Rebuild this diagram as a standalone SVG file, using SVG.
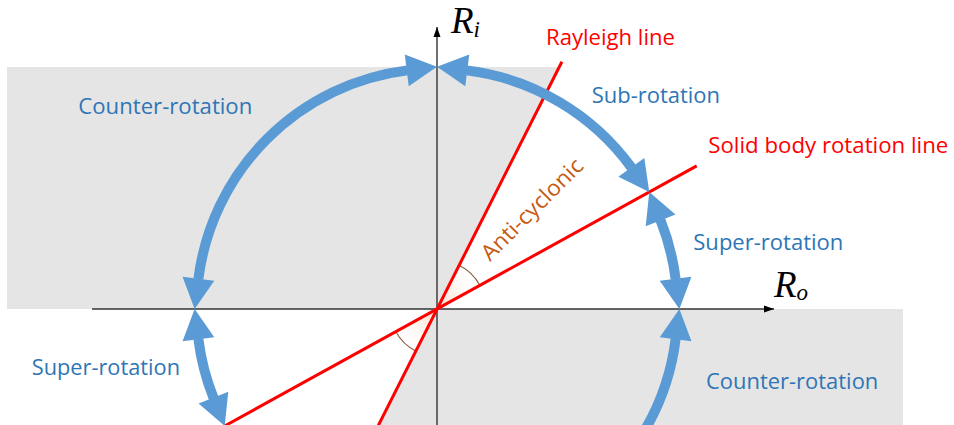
<svg xmlns="http://www.w3.org/2000/svg" width="954" height="425" viewBox="0 0 954 425">
<defs>
<style>
.region{fill:#E5E5E5;stroke:none}
.axis{stroke:#333;stroke-width:1.4;fill:none}
.red{stroke:#FF0000;stroke-width:3;fill:none}
.arc{stroke:#5B9BD5;stroke-width:10;fill:none}
.wedge{fill:url(#peach);stroke:none}
.anglearc{fill:none;stroke:#8B5A3C;stroke-width:1.1}
.blue{font-family:"Open Sans","Noto Sans",sans-serif;font-size:22px;fill:#2E75B6}
.redt{font-family:"Open Sans","Noto Sans",sans-serif;font-size:21px;fill:#FF0000}
.orange{font-family:"Open Sans","Noto Sans",sans-serif;font-size:22px;fill:#C55A11}
.math{font-family:"Liberation Serif","Times New Roman",serif;font-style:italic;fill:#000}
</style>
<radialGradient id="peach" cx="437" cy="309" r="50" gradientUnits="userSpaceOnUse">
<stop offset="0" stop-color="#FBDCC8"/>
<stop offset="1" stop-color="#FFFFFF" stop-opacity="0.2"/>
</radialGradient>
<marker id="bigHead" markerUnits="userSpaceOnUse" viewBox="0 -16.5 30 33" markerWidth="30" markerHeight="33" refX="0" refY="0" orient="auto-start-reverse" overflow="visible">
<path d="M-0.5,-16 L30,0 L-0.5,16 Z" fill="#5B9BD5"/>
</marker>
<marker id="axisHead" markerUnits="userSpaceOnUse" viewBox="0 -4 10 8" markerWidth="10" markerHeight="8" refX="10" refY="0" orient="auto" overflow="visible">
<path d="M0,-3.5 L10,0 L0,3.5 Z" fill="#000"/>
</marker>
</defs>

<g id="regions">
<path id="region-upper" class="region" d="M7,67 H559.2 L437,309 H7 Z"/>
<path id="region-lower" class="region" d="M437,309 H903 V425 H378.4 Z"/>
</g>

<g id="angles">
<path class="wedge" d="M437,309 L459.09,265.26 A49,49 0 0 1 479.92,285.36 Z"/>
<path class="anglearc" d="M459.09,265.26 A49,49 0 0 1 479.92,285.36"/>
<path class="wedge" d="M437,309 L415.81,350.95 A47,47 0 0 1 395.83,331.68 Z"/>
<path class="anglearc" d="M415.81,350.95 A47,47 0 0 1 395.83,331.68"/>
</g>

<g id="axes">
<line id="axis-Ro" class="axis" x1="92" y1="309" x2="774" y2="309" marker-end="url(#axisHead)"/>
<line id="axis-Ri" class="axis" x1="437" y1="425" x2="437" y2="27" marker-end="url(#axisHead)"/>
</g>

<g id="lines">
<line id="rayleigh-line" class="red" x1="374" y1="434" x2="561.9" y2="61.7"/>
<line id="solid-body-line" class="red" x1="225" y1="425.8" x2="696.7" y2="165.9"/>
</g>

<g id="connectors">
<path id="arc-counter-upper" class="arc" d="M407.23,70.35 A240.5,240.5 0 0 0 198.35,279.23" marker-start="url(#bigHead)" marker-end="url(#bigHead)"/>
<path id="arc-sub" class="arc" d="M466.77,70.35 A240.5,240.5 0 0 1 631.65,167.75" marker-start="url(#bigHead)" marker-end="url(#bigHead)"/>
<path id="arc-super-right" class="arc" d="M660.39,219.92 A240.5,240.5 0 0 1 675.65,279.23" marker-start="url(#bigHead)" marker-end="url(#bigHead)"/>
<path id="arc-counter-lower" class="arc" d="M634.01,446.95 A240.5,240.5 0 0 0 675.65,338.77" marker-end="url(#bigHead)"/>
<path id="arc-super-left" class="arc" d="M198.35,338.77 A240.5,240.5 0 0 0 213.61,398.09" marker-start="url(#bigHead)" marker-end="url(#bigHead)"/>
</g>

<g id="label-Ri"><text class="math" x="451" y="33" font-size="37">R<tspan font-size="23" dy="4">i</tspan></text></g>
<g id="label-Ro"><text class="math" x="774" y="297" font-size="37">R<tspan font-size="23" dy="3">o</tspan></text></g>
<g id="label-rayleigh"><text class="redt" x="546" y="45" textLength="129" lengthAdjust="spacingAndGlyphs">Rayleigh line</text></g>
<g id="label-solid"><text class="redt" x="708.3" y="153.3" textLength="240" lengthAdjust="spacingAndGlyphs">Solid body rotation line</text></g>
<g id="label-counter-upper"><text class="blue" x="78.3" y="114" textLength="174" lengthAdjust="spacingAndGlyphs">Counter-rotation</text></g>
<g id="label-sub"><text class="blue" x="591.7" y="103.3" textLength="128.3" lengthAdjust="spacingAndGlyphs">Sub-rotation</text></g>
<g id="label-super-right"><text class="blue" x="693.3" y="250" textLength="150" lengthAdjust="spacingAndGlyphs">Super-rotation</text></g>
<g id="label-super-left"><text class="blue" x="31.7" y="375" textLength="148.3" lengthAdjust="spacingAndGlyphs">Super-rotation</text></g>
<g id="label-counter-lower"><text class="blue" x="706" y="389" textLength="172.3" lengthAdjust="spacingAndGlyphs">Counter-rotation</text></g>
<g id="label-anticyclonic"><text class="orange" x="0" y="0" textLength="134" lengthAdjust="spacingAndGlyphs" transform="translate(490,262) rotate(-45)">Anti-cyclonic</text></g>
</svg>
